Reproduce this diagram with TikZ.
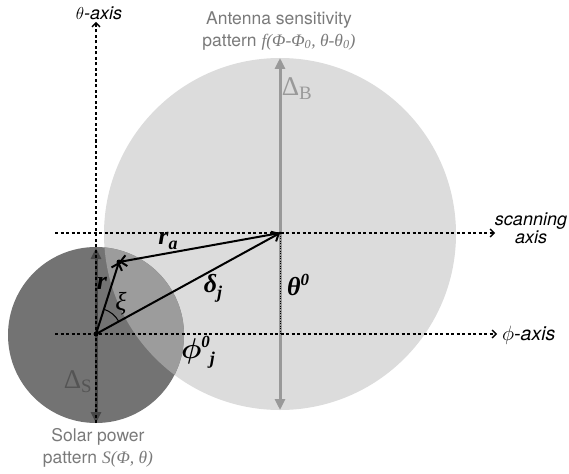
\documentclass[tikz,border=0pt]{standalone}
\usepackage{fontspec}
\setmainfont{Liberation Serif}
\setsansfont{TeX Gyre Heros}
\usetikzlibrary{arrows.meta}
\definecolor{bigc}{HTML}{DCDCDC}
\definecolor{smallc}{HTML}{737373}
\definecolor{overc}{HTML}{9C9C9C}
\definecolor{txtgray}{HTML}{7A7A7A}
\definecolor{arrB}{HTML}{999999}
\definecolor{arrS}{HTML}{474747}
\newcommand{\bi}[1]{\textbf{\textit{#1}}}
\newcommand{\subj}[1]{\raisebox{-0.22em}{\fontsize{18}{18}\selectfont #1}}
\newcommand{\supz}[1]{\raisebox{0.42em}{\fontsize{17}{17}\selectfont #1}}
\begin{document}
\begin{tikzpicture}[x=1pt,y=-1pt,
  axisline/.style={black, line width=1.3pt, dash pattern=on 3pt off 2.5pt,
    -{Straight Barb[length=4pt,width=8pt,line width=1.3pt]}},
  vec/.style={black, line width=2pt, -{Straight Barb[length=6pt,width=11pt,line width=2pt]}},
  graybar/.style={line width=3pt, {Triangle[length=11pt,width=10pt]}-{Triangle[length=11pt,width=10pt]}},
  sanslab/.style={font=\sffamily\fontsize{17.5}{21.5}\selectfont, align=center, inner sep=0pt},
  axislab/.style={font=\sffamily\itshape\fontsize{18}{18}\selectfont, inner sep=0pt},
  mathlab/.style={font=\fontsize{26}{26}\selectfont, inner sep=0pt},
  dot/.style={circle, fill=black, inner sep=0pt, minimum size=5pt}
]
\useasboundingbox (0,0) rectangle (569,473);
% circles
\fill[bigc] (280,234) circle[radius=176];
\fill[smallc] (96,335) circle[radius=88];
\begin{scope}
  \clip (280,234) circle[radius=176];
  \fill[overc] (96,335) circle[radius=88];
\end{scope}

% key points
\coordinate (O) at (96,334);
\coordinate (R) at (119,262);
\coordinate (A) at (280,233);

% axes
\coordinate (thbot) at (96,423);
\coordinate (thtop) at (96,22);
\coordinate (phl) at (55,334);
\coordinate (phr) at (497,334);
\coordinate (scl) at (55,233);
\coordinate (scr) at (495,233);
\coordinate (Bt) at (280,58);
\coordinate (Bb) at (280,410);
\coordinate (St) at (96,248);
\coordinate (Sb) at (96,423);
\coordinate (Aph) at (280,334);

% gray bars
\draw[graybar, arrB] (Bb) -- (Bt);
\draw[graybar, arrS] (Sb) -- (St);

\draw[axisline] (thbot) -- (thtop);
\draw[axisline] (phl) -- (phr);
\draw[axisline] (scl) -- (scr);
\draw[black, line width=1pt, dash pattern=on 1pt off 1.5pt] (A) -- (Aph);

% vectors
\draw[vec] (O) -- (R);
\draw[vec] (O) -- (A);
\draw[vec] (A) -- (R);
\node[dot] (Od) at (O) {};
\node[dot] (Rd) at (R) {};
\node[dot, minimum size=3pt] (Ad) at (A) {};

% angle arc
\draw[black, line width=1pt] ([shift={(28.8:26pt)}]O) arc[start angle=28.8, end angle=72.3, radius=26pt];

% labels
\node[axislab] (thlab) at (99,13) {$\theta$-axis};
\node[axislab, anchor=west, font=\sffamily\itshape\fontsize{19.5}{19.5}\selectfont] (phlab) at (502,335) {$\phi$-axis};
\node[axislab, align=center, font=\sffamily\itshape\fontsize{18}{14}\selectfont] (sclab) at (531,228) {scanning\\axis};

\node[sanslab, text=txtgray] (antlab) at (279,31) {Antenna sensitivity\\pattern {\rmfamily\itshape f(Φ-Φ\textsubscript{0}, θ-θ\textsubscript{0})}};
\node[sanslab, text=txtgray] (sollab) at (98,448) {Solar power\\pattern {\rmfamily\itshape S(Φ, θ)}};

\node[mathlab, text=arrB, font=\fontsize{27}{27}\selectfont] (dB) at (297,89) {Δ\textsubscript{B}};
\node[mathlab, text=arrS!70!smallc, font=\fontsize{27}{27}\selectfont] (dS) at (78,382) {Δ\textsubscript{S}};

\node[mathlab] (rlab) at (102,283) {\bi{r}};
\node[mathlab] (ralab) at (168,241) {\bi{r}\subj{\bi{a}}};
\node[mathlab] (dlab) at (213,288) {\bi{δ}\subj{\bi{j}}};
\node[mathlab] (xilab) at (121,304) {\textit{ξ}};
\node[mathlab] (th0) at (298,285) {\bi{θ}\supz{\bi{0}}};
\node[mathlab] (ph0) at (198,352) {\scalebox{1.15}{\boldmath$\phi$}\supz{\bi{0}}\subj{\bi{j}}};
\end{tikzpicture}
\end{document}
